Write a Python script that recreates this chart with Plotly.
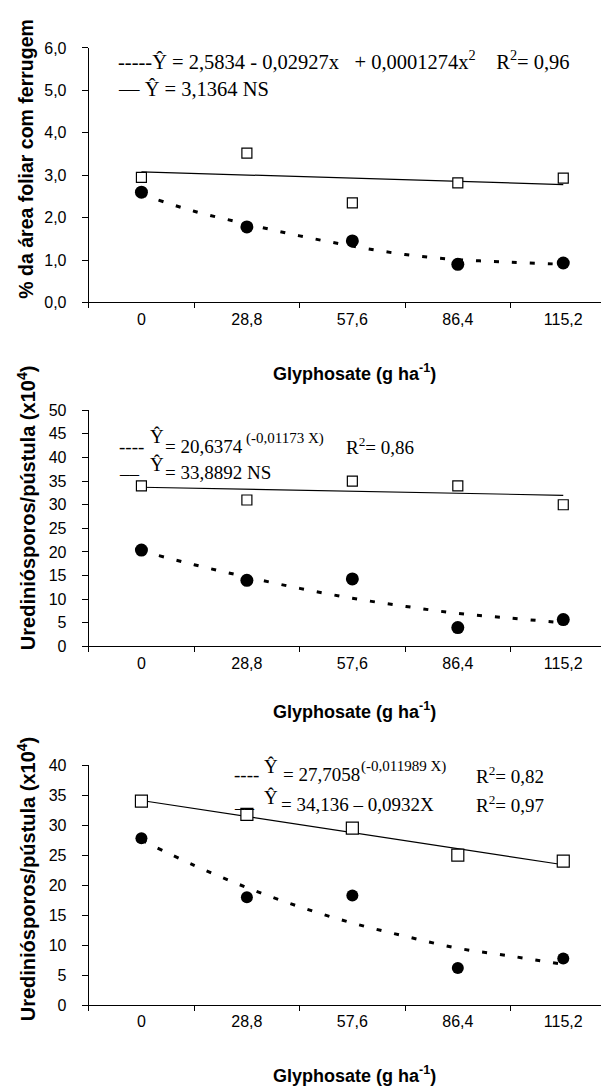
import plotly.graph_objects as go

# ---------------- data ----------------
doses = [0, 28.8, 57.6, 86.4, 115.2]
dose_labels = ["0", "28,8", "57,6", "86,4", "115,2"]
dose_bounds = [-14.4, 14.4, 43.2, 72.0, 100.8, 129.6]

# panel 1: % leaf area with rust
p1_open = [2.95, 3.52, 2.35, 2.82, 2.93]
p1_filled = [2.60, 1.78, 1.45, 0.90, 0.93]
p1_solid = [3.08, 2.78]
p1_curve_x = [0, 14.4, 28.8, 43.2, 57.6, 72.0, 86.4, 100.8, 115.2]
p1_curve = [2.55, 2.15, 1.85, 1.57, 1.33, 1.13, 1.01, 0.95, 0.90]
p1_yticks = [0, 1, 2, 3, 4, 5, 6]
p1_ylabels = ["0,0", "1,0", "2,0", "3,0", "4,0", "5,0", "6,0"]

# panel 2: urediniospores / pustule
p2_open = [34.0, 31.0, 35.0, 34.0, 30.0]
p2_filled = [20.4, 14.0, 14.3, 4.0, 5.7]
p2_solid = [33.7, 32.0]
p2_curve_x = [0, 14.4, 28.8, 43.2, 57.6, 72.0, 86.4, 100.8, 115.2]
p2_curve = [20.2, 17.3, 14.7, 12.3, 10.2, 8.5, 7.0, 6.0, 5.0]
p2_yticks = [0, 5, 10, 15, 20, 25, 30, 35, 40, 45, 50]

# panel 3: urediniospores / pustule
p3_open = [34.0, 31.8, 29.5, 25.0, 24.0]
p3_filled = [27.8, 18.0, 18.3, 6.2, 7.8]
p3_solid = [34.1, 23.4]
p3_curve_x = [0, 14.4, 28.8, 43.2, 57.6, 72.0, 86.4, 100.8, 115.2]
p3_curve = [27.5, 23.3, 19.6, 16.4, 13.7, 11.5, 9.5, 8.2, 6.8]
p3_yticks = [0, 5, 10, 15, 20, 25, 30, 35, 40]

# ---------------- layout helpers ----------------
W, H = 609, 1086
def px(x):
    return x / W
def py(y):
    return 1 - y / H

SANS = "Liberation Sans, Arial, sans-serif"
SERIF = "Liberation Serif, Times New Roman, serif"

fig = go.Figure()

panels = [
    dict(open=p1_open, filled=p1_filled, solid=p1_solid, cx=p1_curve_x, cy=p1_curve,
         top=32.5, bottom=291, yr=[0, 6], yt=p1_yticks, yl=p1_ylabels, sq=10, ci=13),
    dict(open=p2_open, filled=p2_filled, solid=p2_solid, cx=p2_curve_x, cy=p2_curve,
         top=400.5, bottom=640.5, yr=[0, 50], yt=p2_yticks, yl=[str(v) for v in p2_yticks], sq=10, ci=13),
    dict(open=p3_open, filled=p3_filled, solid=p3_solid, cx=p3_curve_x, cy=p3_curve,
         top=761, bottom=1005, yr=[0, 40], yt=p3_yticks, yl=[str(v) for v in p3_yticks], sq=12, ci=12),
]

for i, p in enumerate(panels, start=1):
    xa = "x" if i == 1 else f"x{i}"
    ya = "y" if i == 1 else f"y{i}"
    fig.add_trace(go.Scatter(x=p["cx"], y=p["cy"], xaxis=xa, yaxis=ya, mode="lines",
                             line=dict(color="black", width=3, dash="5px,13px", shape="spline"),
                             showlegend=False, hoverinfo="skip"))
    fig.add_trace(go.Scatter(x=[doses[0], doses[-1]], y=p["solid"], xaxis=xa, yaxis=ya, mode="lines",
                             line=dict(color="black", width=1.2), showlegend=False, hoverinfo="skip"))
    fig.add_trace(go.Scatter(x=doses, y=p["open"], xaxis=xa, yaxis=ya, mode="markers",
                             marker=dict(symbol="square", size=p["sq"], color="white",
                                         line=dict(color="black", width=1.2)),
                             showlegend=False))
    fig.add_trace(go.Scatter(x=doses, y=p["filled"], xaxis=xa, yaxis=ya, mode="markers",
                             marker=dict(symbol="circle", size=p["ci"], color="black",
                                         line=dict(color="black", width=0)),
                             showlegend=False))

    xkey = "xaxis" if i == 1 else f"xaxis{i}"
    ykey = "yaxis" if i == 1 else f"yaxis{i}"
    fig.update_layout(**{
        xkey: dict(domain=[px(80.7), px(608)], range=[dose_bounds[0], dose_bounds[-1]],
                   anchor=ya, tickmode="array", tickvals=doses, ticktext=dose_labels,
                   ticks="", showline=True, linecolor="black", linewidth=1,
                   showgrid=False, zeroline=False, ticklabelstandoff=2,
                   tickfont=dict(family=SANS, size=16, color="black"),
                   minor=dict(tickmode="array", tickvals=dose_bounds, ticks="outside",
                              ticklen=5, tickcolor="black", tickwidth=1, showgrid=False)),
        ykey: dict(domain=[py(p["bottom"]), py(p["top"])], range=p["yr"], anchor=xa,
                   tickmode="array", tickvals=p["yt"], ticktext=p["yl"],
                   ticks="outside", ticklen=6, tickcolor="black", tickwidth=1,
                   showline=True, linecolor="black", linewidth=1,
                   showgrid=False, zeroline=False, ticklabelstandoff=12,
                   tickfont=dict(family=SANS, size=16, color="black")),
    })

ann = []
# x-axis titles
for yc in [362, 706, 1075]:
    ann.append(dict(x=px(346), y=py(yc), text="Glyphosate (g ha<sup>-1</sup>)",
                    xanchor="center", yanchor="middle",
                    font=dict(family=SANS, size=18, color="black", weight="bold")))
# y-axis titles
ann.append(dict(x=px(18), y=py(145), text="% da área foliar com ferrugem", textangle=-90,
                xanchor="center", yanchor="middle",
                font=dict(family=SANS, size=19.5, color="black", weight="bold")))
ann.append(dict(x=px(18), y=py(500), text="Urediniósporos/pústula (x10<sup>4</sup>)", textangle=-90,
                xanchor="center", yanchor="middle",
                font=dict(family=SANS, size=20, color="black", weight="bold")))
ann.append(dict(x=px(18), y=py(877), text="Urediniósporos/pústula (x10<sup>4</sup>)", textangle=-90,
                xanchor="center", yanchor="middle",
                font=dict(family=SANS, size=20, color="black", weight="bold")))

NB = "\u00a0"
def leg(x, y, text, size=19):
    ann.append(dict(x=px(x), y=py(y), text=text, xanchor="left", yanchor="middle",
                    font=dict(family=SERIF, size=size, color="black")))

# panel 1 legend
leg(108, 45, "-----Ŷ = 2,5834 - 0,02927x" + NB * 3 + "+ 0,0001274x<sup>2</sup>" + NB * 4 + "R<sup>2</sup>= 0,96", 20.5)
leg(108, 74, "— Ŷ = 3,1364 NS", 20.5)
# panel 2 legend
leg(109, 437, "----")
leg(140, 427, "Ŷ")
leg(155, 437, "= 20,6374")
leg(236, 429, "(-0,01173 X)", 15)
leg(336, 437, "R<sup>2</sup>= 0,86")
leg(109, 459, "__")
leg(140, 456, "Ŷ")
leg(155, 464, "= 33,8892 NS")
# panel 3 legend
leg(224, 771, "----")
leg(254, 762, "Ŷ")
leg(273, 771, "= 27,7058")
leg(351, 762, "(-0,011989 X)", 15)
leg(466, 771, "R<sup>2</sup>= 0,82")
leg(224, 798, "__")
leg(254, 794, "Ŷ")
leg(271, 801, "= 34,136 – 0,0932X")
leg(466, 801, "R<sup>2</sup>= 0,97")

for a in ann:
    a.setdefault("xref", "paper")
    a.setdefault("yref", "paper")
    a.setdefault("showarrow", False)

fig.update_layout(width=W, height=H, margin=dict(l=0, r=0, t=0, b=0),
                  paper_bgcolor="white", plot_bgcolor="white", annotations=ann,
                  showlegend=False)

fig.write_html("out.html")
